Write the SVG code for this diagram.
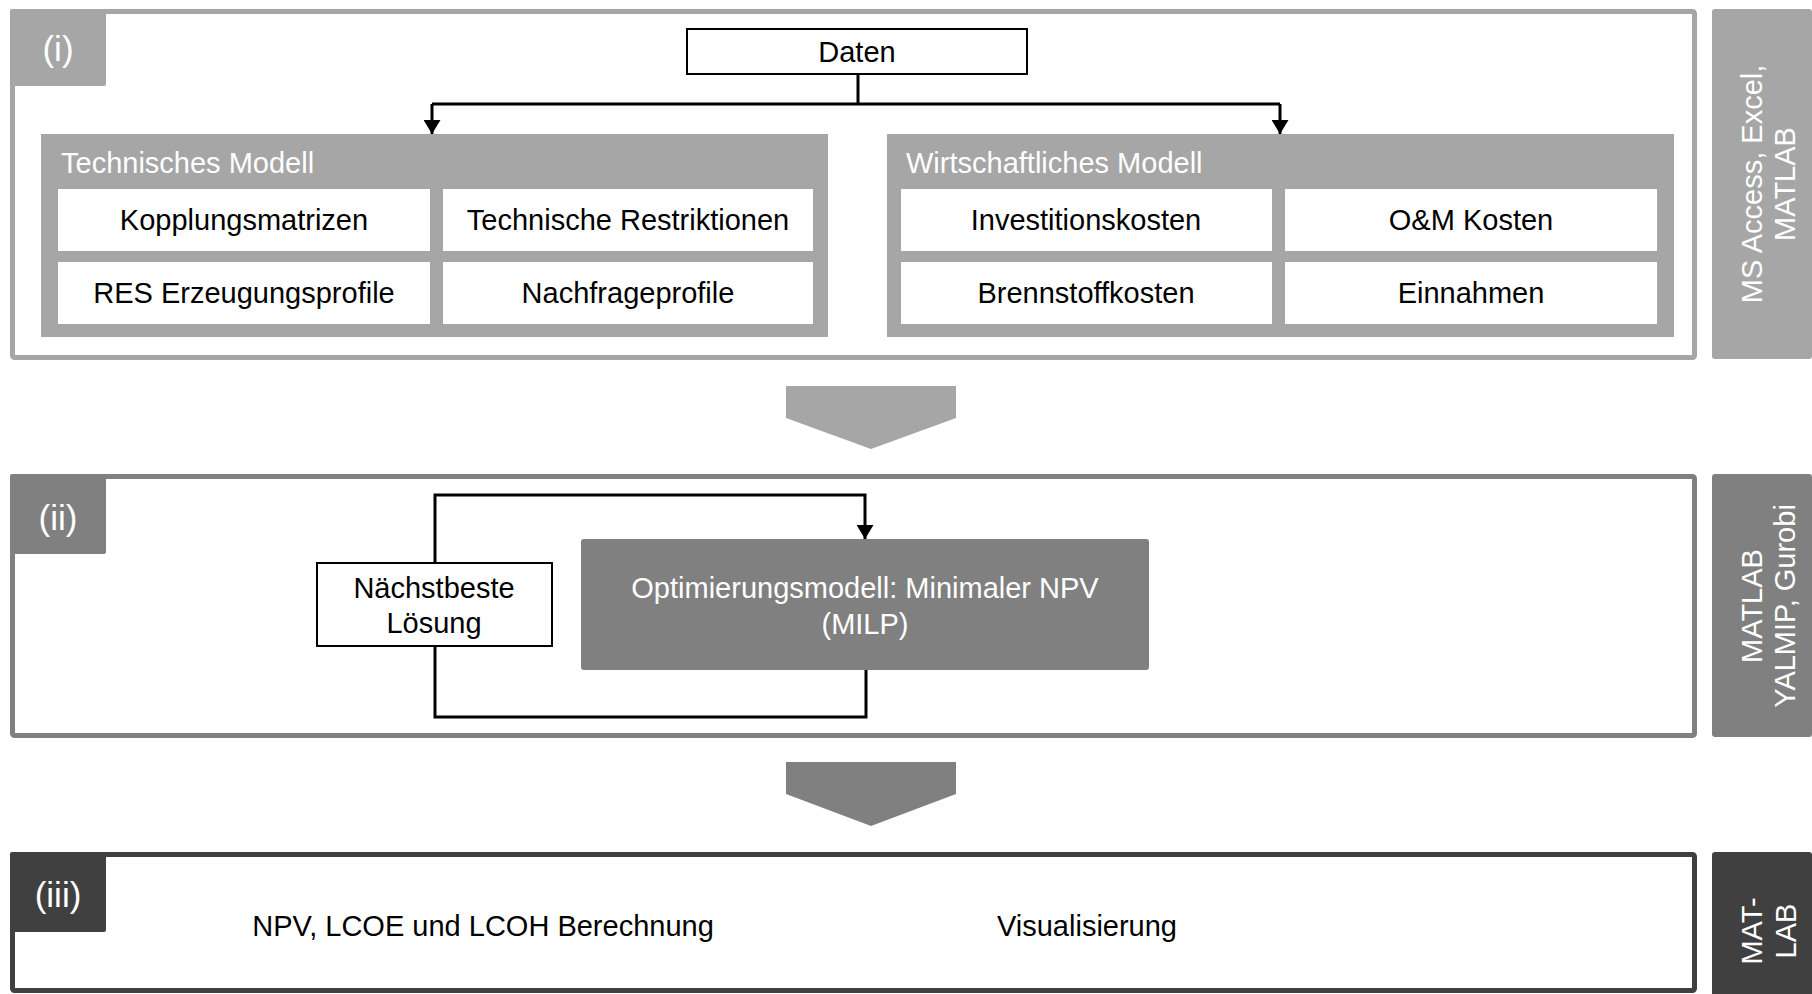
<svg xmlns="http://www.w3.org/2000/svg" width="1812" height="994" viewBox="0 0 1812 994">
<defs>
<style>
text{font-family:"Liberation Sans",Arial,sans-serif;}
.t{font-size:29px;fill:#000;text-anchor:middle;}
.tw{font-size:29px;fill:#fff;}
.lab{font-size:35px;fill:#fff;text-anchor:middle;}
.side{font-size:29px;fill:#fff;text-anchor:middle;}
.cell{fill:#fff;stroke:none;}
.line{fill:none;stroke:#000;stroke-width:3;}
</style>
<marker id="ah" viewBox="0 0 14 17" refX="14" refY="8.5" markerWidth="14" markerHeight="17" markerUnits="userSpaceOnUse" orient="auto">
<path d="M0,0 L14,8.5 L0,17 Z" fill="#000"/>
</marker>
</defs>
<rect width="1812" height="994" fill="#fff"/>

<g id="panel1">
<rect x="12.5" y="11.5" width="1682" height="346" rx="2" fill="#fff" stroke="#a6a6a6" stroke-width="5"/>
<rect x="10" y="9" width="96" height="77" rx="2" fill="#a6a6a6"/>
<text class="lab" x="58" y="61">(i)</text>
</g>
<g id="side1">
<rect x="1712" y="9" width="100" height="350" rx="3" fill="#a6a6a6"/>
<text class="side" transform="translate(1752,184) rotate(-90)" x="0" y="10">MS Access, Excel,</text>
<text class="side" transform="translate(1785,184) rotate(-90)" x="0" y="10">MATLAB</text>
</g>

<g id="daten">
<rect x="687" y="29" width="340" height="45" fill="#fff" stroke="#000" stroke-width="2"/>
<text class="t" x="857" y="62">Daten</text>
</g>

<g id="technisch">
<rect x="41" y="134" width="787" height="203" fill="#a6a6a6"/>
<text class="tw" x="61" y="173">Technisches Modell</text>
<rect class="cell" x="58" y="189" width="372" height="62"/>
<rect class="cell" x="443" y="189" width="370" height="62"/>
<rect class="cell" x="58" y="262" width="372" height="62"/>
<rect class="cell" x="443" y="262" width="370" height="62"/>
<text class="t" x="244" y="230">Kopplungsmatrizen</text>
<text class="t" x="628" y="230">Technische Restriktionen</text>
<text class="t" x="244" y="303">RES Erzeugungsprofile</text>
<text class="t" x="628" y="303">Nachfrageprofile</text>
</g>

<g id="wirtschaft">
<rect x="887" y="134" width="787" height="203" fill="#a6a6a6"/>
<text class="tw" x="906" y="173">Wirtschaftliches Modell</text>
<rect class="cell" x="901" y="189" width="371" height="62"/>
<rect class="cell" x="1285" y="189" width="372" height="62"/>
<rect class="cell" x="901" y="262" width="371" height="62"/>
<rect class="cell" x="1285" y="262" width="372" height="62"/>
<text class="t" x="1086" y="230">Investitionskosten</text>
<text class="t" x="1471" y="230">O&amp;M Kosten</text>
<text class="t" x="1086" y="303">Brennstoffkosten</text>
<text class="t" x="1471" y="303">Einnahmen</text>
</g>

<g id="chevron1">
<polygon points="786,386 956,386 956,418 871,449 786,418" fill="#a6a6a6"/>
</g>

<g id="panel2">
<rect x="12.5" y="476.5" width="1682" height="259" rx="2" fill="#fff" stroke="#808080" stroke-width="5"/>
<rect x="10" y="474" width="96" height="80" rx="2" fill="#808080"/>
<text class="lab" x="58" y="530">(ii)</text>
</g>
<g id="side2">
<rect x="1712" y="474" width="100" height="263" rx="3" fill="#808080"/>
<text class="side" transform="translate(1752,606) rotate(-90)" x="0" y="10">MATLAB</text>
<text class="side" transform="translate(1785,606) rotate(-90)" x="0" y="10">YALMIP, Gurobi</text>
</g>

<g id="naechstbeste">
<rect x="317" y="563" width="235" height="83" fill="#fff" stroke="#000" stroke-width="2"/>
<text class="t" x="434" y="598">Nächstbeste</text>
<text class="t" x="434" y="633">Lösung</text>
</g>

<g id="optimierung">
<rect x="581" y="539" width="568" height="131" rx="3" fill="#808080"/>
<text class="tw" x="865" y="598" text-anchor="middle">Optimierungsmodell: Minimaler NPV</text>
<text class="tw" x="865" y="634" text-anchor="middle">(MILP)</text>
</g>

<g id="chevron2">
<polygon points="786,762 956,762 956,794 871,826 786,794" fill="#808080"/>
</g>

<g id="panel3">
<rect x="12.5" y="854.5" width="1682" height="136" rx="2" fill="#fff" stroke="#404040" stroke-width="5"/>
<rect x="10" y="852" width="96" height="80" rx="2" fill="#404040"/>
<text class="lab" x="58" y="907">(iii)</text>
<text class="t" x="483" y="936">NPV, LCOE und LCOH Berechnung</text>
<text class="t" x="1087" y="936">Visualisierung</text>
</g>
<g id="side3">
<rect x="1712" y="852" width="100" height="145" rx="3" fill="#404040"/>
<text class="side" transform="translate(1752,931) rotate(-90)" x="0" y="10">MAT-</text>
<text class="side" transform="translate(1786,931) rotate(-90)" x="0" y="10">LAB</text>
</g>

<g id="connectors">
<path class="line" d="M858,74 V104"/>
<path class="line" d="M432,104 H1280"/>
<path class="line" d="M432,104 V134" marker-end="url(#ah)"/>
<path class="line" d="M1280,104 V134" marker-end="url(#ah)"/>
<path class="line" d="M435,563 V495 H865 V539" marker-end="url(#ah)"/>
<path class="line" d="M435,646 V717 H866 V670"/>
</g>
</svg>
